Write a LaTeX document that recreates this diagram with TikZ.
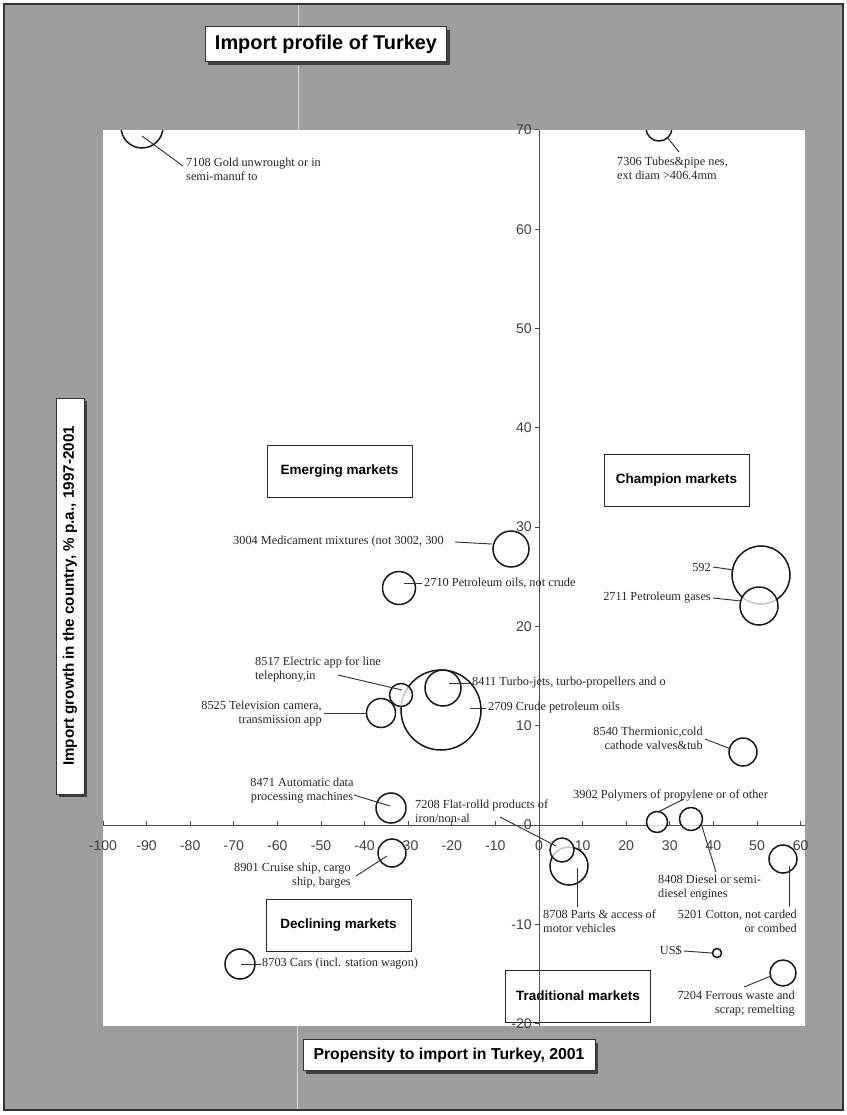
\documentclass[tikz,border=0pt]{standalone}
\usepackage{fontspec}
\setmainfont{Liberation Serif}
\setsansfont{Liberation Sans}
\usetikzlibrary{shadows}
\begin{document}
\begin{tikzpicture}[x=0.03cm,y=-0.03cm,
  lbl/.style={font=\fontsize{10.5}{12}\selectfont, inner sep=0pt, text=black!85},
  bub/.style={circle, draw=black!90, line width=1.3pt, fill=white, fill opacity=0.75, draw opacity=1, inner sep=0pt, minimum size=#1*0.06cm},
  leader/.style={draw=black!80, line width=0.8pt},
  axisline/.style={draw=black!70, line width=0.8pt},
  ticklbl/.style={font=\sffamily\fontsize{12}{14}\selectfont, text=black!75, inner sep=0pt},
  quad/.style={draw=black!85, line width=0.8pt, font=\sffamily\bfseries\fontsize{11.5}{13}\selectfont, minimum width=4.35cm, minimum height=1.56cm, inner sep=0pt},
  titlebox/.style={draw=black!80, line width=0.8pt, fill=white, inner sep=0pt, drop shadow={shadow xshift=0.09cm, shadow yshift=-0.09cm, fill=black!75, opacity=1}}
]
\useasboundingbox (0,0) rectangle (847,1115);
% background frame
\fill[white] (0,0) rectangle (847,1115);
\fill[black!38] (4,4) rectangle (843,1110);
\draw[black!80, line width=1.2pt] (4,4) rectangle (843,1110);
\draw[white!85!black, line width=0.8pt] (298,5) -- (298,130);
\draw[white!85!black, line width=0.8pt] (297,1026) -- (297,1109);
% plot area
\fill[white] (103,130) rectangle (805,1026);

% titles
\node[titlebox, minimum width=7.23cm, minimum height=1.05cm, font=\sffamily\bfseries\fontsize{17}{20}\selectfont] (title) at (326,44) {Import profile of Turkey};
\node[titlebox, rotate=90, minimum width=11.88cm, minimum height=0.84cm, font=\sffamily\bfseries\fontsize{13}{15}\selectfont] (ylabel) at (70,596) {Import growth in the country, \% p.a., 1997-2001};
\node[titlebox, minimum width=8.76cm, minimum height=0.93cm, font=\sffamily\bfseries\fontsize{13.5}{16}\selectfont] (xlabel) at (449,1055) {Propensity to import in Turkey, 2001};

% quadrant boxes
\node[quad] (qE) at (339.5,471) {Emerging markets};
\node[quad] (qC) at (676.5,480) {Champion markets};
\node[quad] (qD) at (338.5,925.5) {Declining markets};
\node[quad] (qT) at (578,996) {Traditional markets};

% axes
\draw[axisline] (539,130) -- (539,1026);
\draw[axisline] (103,825) -- (805,825);
\foreach \v in {-20,-10,...,70} {
  \draw[axisline] (534.5,{825-9.93*\v}) -- (539,{825-9.93*\v});
  \node[ticklbl, anchor=east] (ylab\v) at (532,{825-9.93*\v}) {\v};
}
\foreach \u in {-100,-90,...,60} {
  \draw[axisline] ({539+4.36*\u},820.5) -- ({539+4.36*\u},825);
  \node[ticklbl] (xlab\u) at ({539+4.36*\u},846) {\u};
}

% bubbles
\begin{scope}
\clip (103,130) rectangle (805,1026);
\node[bub=40] (b2709) at (441,710) {};
\node[bub=29] (b592) at (761,575) {};
\node[bub=21] (b7108) at (142,127) {};
\node[bub=19] (b2711) at (759,606) {};
\node[bub=19] (b8708) at (569,866) {};
\node[bub=18] (b3004) at (511,549) {};
\node[bub=18] (b8411) at (443,688) {};
\node[bub=16.5] (b2710) at (399,588) {};
\node[bub=15] (b8471) at (391,808) {};
\node[bub=15] (b8703) at (240,964) {};
\node[bub=14.5] (b8525) at (381,713) {};
\node[bub=14] (b8540) at (743,752) {};
\node[bub=14] (b8901) at (392,853) {};
\node[bub=14] (b5201) at (783,859) {};
\node[bub=13] (b7306) at (659,128) {};
\node[bub=13] (b7204) at (783,973) {};
\node[bub=12] (b7208) at (562,850) {};
\node[bub=11.5] (b8517) at (401,695) {};
\node[bub=11.5] (b8408) at (691,819) {};
\node[bub=10.5] (b3902) at (657,822) {};
\node[bub=4.5] (bUSD) at (717,953) {};
\end{scope}

% labels
\node[lbl, align=left, anchor=north west] (t7108) at (186,158) {7108 Gold unwrought or in\\semi-manuf to};
\node[lbl, align=left, anchor=north west] (t7306) at (617,157) {7306 Tubes\&pipe nes,\\ext diam >406.4mm};
\node[lbl, anchor=west] (t3004) at (233,542) {3004 Medicament mixtures (not 3002, 300};
\node[lbl, anchor=west] (t2710) at (424,583) {2710 Petroleum oils, not crude};
\node[lbl, anchor=east] (t592) at (711,567) {592};
\node[lbl, anchor=east] (t2711) at (711,598) {2711 Petroleum gases};
\node[lbl, align=left, anchor=north west] (t8517) at (255,657) {8517 Electric app for line\\telephony,in};
\node[lbl, align=right, anchor=north east] (t8525) at (322,701) {8525 Television camera,\\transmission app};
\node[lbl, anchor=west] (t2709) at (488,708) {2709 Crude petroleum oils};
\node[lbl, anchor=west] (t8411) at (472,683) {8411 Turbo-jets, turbo-propellers and o};
\node[lbl, align=right, anchor=north east] (t8540) at (703,727) {8540 Thermionic,cold\\cathode valves\&tub};
\node[lbl, align=center, anchor=north] (t8471) at (302,778) {8471 Automatic data\\processing machines};
\node[lbl, align=left, anchor=north west] (t7208) at (415,800) {7208 Flat-rolld products of\\iron/non-al};
\node[lbl, anchor=west] (t3902) at (573,795) {3902 Polymers of propylene or of other};
\node[lbl, align=left, anchor=north west] (t8408) at (658,875) {8408 Diesel or semi-\\diesel engines};
\node[lbl, align=left, anchor=north west] (t8708) at (543,910) {8708 Parts \& access of\\motor vehicles};
\node[lbl, align=right, anchor=north east] (t5201) at (797,910) {5201 Cotton, not carded\\or combed};
\node[lbl, anchor=east] (tUSD) at (682,951) {US\$};
\node[lbl, align=right, anchor=north east] (t7204) at (795,991) {7204 Ferrous waste and\\scrap; remelting};
\node[lbl, align=right, anchor=north east] (t8901) at (351,863) {8901 Cruise ship, cargo\\ship, barges};
\node[lbl, anchor=west] (t8703) at (262,964) {8703 Cars (incl. station wagon)};

% leader end points
\coordinate (a7108) at (142,136); \coordinate (e7108) at (183,166);
\coordinate (a7306) at (667,137); \coordinate (e7306) at (679,152);
\coordinate (e3004) at (455,542); \coordinate (a3004) at (492,544);
\coordinate (a2710) at (404,583); \coordinate (e2710) at (422,583);
\coordinate (e592) at (713,567);  \coordinate (a592) at (734,570);
\coordinate (e2711) at (713,598); \coordinate (a2711) at (741,601);
\coordinate (e8517) at (338,675); \coordinate (a8517) at (402,690);
\coordinate (e8525) at (324,713); \coordinate (a8525) at (367,713);
\coordinate (a2709) at (470,708); \coordinate (e2709) at (486,708);
\coordinate (a8411) at (449,683); \coordinate (e8411) at (470,683);
\coordinate (e8540) at (705,739); \coordinate (a8540) at (731,749);
\coordinate (e8471) at (354,795); \coordinate (a8471) at (390,806);
\coordinate (e7208) at (500,817); \coordinate (a7208) at (556,846);
\coordinate (a3902) at (658,812); \coordinate (e3902) at (684,799);
\coordinate (a8408) at (701,823); \coordinate (e8408) at (716,872);
\coordinate (a8708) at (577,868); \coordinate (e8708) at (577,907);
\coordinate (a5201) at (789,866); \coordinate (e5201) at (789,907);
\coordinate (eUSD) at (684,951);  \coordinate (aUSD) at (712,953);
\coordinate (e7204) at (744,987); \coordinate (a7204) at (771,976);
\coordinate (e8901) at (356,876); \coordinate (a8901) at (387,856);
\coordinate (a8703) at (241,964); \coordinate (e8703) at (261,964);

\foreach \k in {7108,7306,3004,2710,592,2711,8517,8525,2709,8411,8540,8471,7208,3902,8408,8708,5201,USD,7204,8901,8703}
  \draw[leader] (a\k) -- (e\k);
\end{tikzpicture}
\end{document}
